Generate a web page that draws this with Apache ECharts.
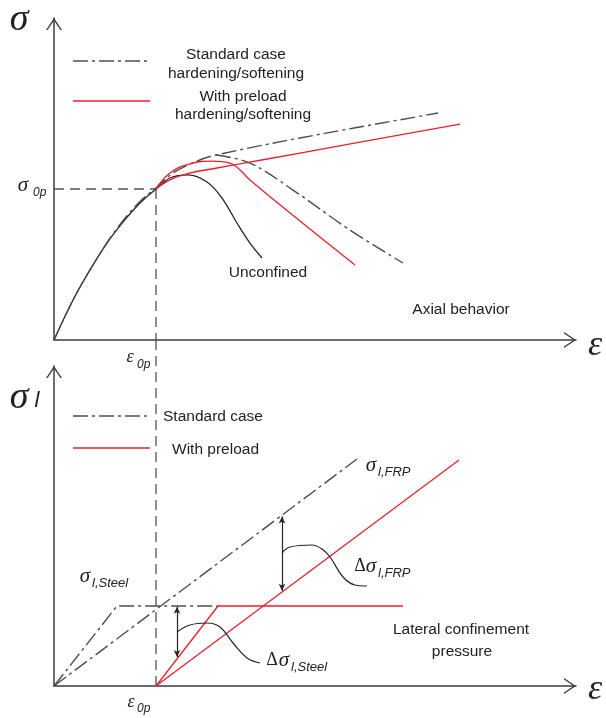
<!DOCTYPE html>
<html><head><meta charset="utf-8">
<script src="https://cdn.jsdelivr.net/npm/echarts@6.0.0/dist/echarts.min.js"></script>
<style>html,body{margin:0;padding:0;background:#fff}#c{width:606px;height:718px}</style>
</head><body><div id="c"></div>
<script>
// ---------- DATA (x: strain units with eps0p = 2; top y: sigma0p = 1; bottom y: steel plateau = 1) ----------
const eps0p = 2;
const sig0p = 1;
// Top panel: axial behaviour
const unconfined = [[0,0],[0.373,0.265],[0.706,0.464],[1.039,0.642],[1.353,0.781],[1.686,0.907],[2.0,1.0],[2.275,1.073],[2.627,1.093],[3.0,1.046],[3.294,0.940],[3.588,0.775],[3.843,0.642],[4.078,0.543]];
const stdHardening = [[0,0],[0.373,0.265],[0.706,0.464],[1.039,0.645],[1.353,0.790],[1.686,0.917],[2.0,1.007],[2.333,1.106],[2.804,1.185],[3.176,1.225],[4.824,1.338],[7.529,1.503]];
const stdSoftening = [[3.176,1.225],[3.843,1.172],[4.686,0.993],[5.804,0.728],[6.843,0.510]];
const preSoftening = [[2,1],[2.275,1.106],[2.667,1.166],[3.098,1.185],[3.451,1.172],[3.647,1.126],[3.843,1.060],[4.824,0.788],[5.902,0.497]];
const preHardening = [[2,1],[2.275,1.060],[2.667,1.106],[3.196,1.139],[3.647,1.166],[4.824,1.238],[7.961,1.430]];
// Bottom panel: lateral confinement pressure
const stdFRP = [[0,0],[5.941,2.8375]];
const stdSteel = [[0,0],[1.235,1],[3.216,1]];
const preSteel = [[2,0],[3.216,1],[6.843,1]];
const preFRP = [[2,0],[7.941,2.825]];
const frpArrow = [[4.471,2.12],[4.471,1.19]];
const steelArrow = [[2.412,0.99],[2.412,0.3625]];
const frpLeader = [[4.471,1.6625],[4.627,1.7375],[5.059,1.7625],[5.255,1.7125],[5.412,1.6125],[5.667,1.3625],[5.902,1.2625],[6.137,1.25]];
const steelLeader = [[2.412,0.675],[2.667,0.7625],[3.0,0.7875],[3.255,0.7375],[3.510,0.5375],[3.784,0.35],[4.039,0.2875]];
const guideTopY = 4.325;

// ---------- STYLE ----------
const RED = '#e8202c', DD = '#4d4d4d', BLK = '#262626', AX = '#3c3c3c', TXT = '#222';
const DASHDOT = [15,4,3,4];
const chevron = 'path://M0,12 L8,0 L16,12 L14.4,12 L8,2.4 L1.6,12 Z';

function axisX(gi){ return {gridIndex:gi,type:'value',min:0,max:10.235,
  axisLine:{show:true,lineStyle:{color:AX,width:1.5},symbol:['none',chevron],symbolSize:[16,12],symbolOffset:[0,-6]},
  axisTick:{show:false},axisLabel:{show:false},splitLine:{show:false}}; }
function axisY(gi,max){ return {gridIndex:gi,type:'value',min:0,max:max,
  axisLine:{show:true,onZero:false,lineStyle:{color:AX,width:1.5},symbol:['none',chevron],symbolSize:[16,12],symbolOffset:[0,-6]},
  axisTick:{show:false},axisLabel:{show:false},splitLine:{show:false}}; }
function ser(gi,data,color,width,type,smooth,extra){
  return Object.assign({type:'line',xAxisIndex:gi,yAxisIndex:gi,data:data,symbol:'none',smooth:smooth||false,
    silent:true,animation:false,lineStyle:{color:color,width:width,type:type}},extra||{});
}
function T(x,y,text,size,o){ o=o||{};
  return {type:'text',x:x,y:y,silent:true,z:100,style:{text:text,fontSize:size,
    fontFamily:o.family||'"Liberation Sans", Arial, sans-serif',fontStyle:o.italic?'italic':'normal',
    fill:TXT,align:o.align||'center',verticalAlign:'middle',textAlign:o.align||'center',textVerticalAlign:'middle'}};
}
const SERIF = '"Liberation Serif", "DejaVu Serif", serif';
function L(x1,y1,x2,y2,color,dash){ return {type:'line',silent:true,shape:{x1:x1,y1:y1,x2:x2,y2:y2},
  style:{stroke:color,lineWidth:1.4,lineDash:dash||null}}; }

const chart = echarts.init(document.getElementById('c'), null, {renderer:'canvas'});
chart.setOption({
  backgroundColor:'#fff',
  animation:false,
  grid:[{left:54,top:18,width:522,height:322},{left:54,top:366,width:522,height:320}],
  xAxis:[axisX(0),axisX(1)],
  yAxis:[axisY(0,322/151),axisY(1,4.0)],
  series:[
    // top guides
    ser(0,[[0,sig0p],[eps0p,sig0p]],'#555',1.3,[10,6]),
    ser(0,[[eps0p,sig0p],[eps0p,0]],'#555',1.3,[10,6]),
    ser(0,unconfined,BLK,1.3,'solid',0.35),
    ser(0,stdHardening,DD,1.4,DASHDOT,0.35),
    ser(0,stdSoftening,DD,1.4,DASHDOT,0.35),
    ser(0,preSoftening,RED,1.3,'solid',0.45),
    ser(0,preHardening,RED,1.3,'solid',0.35),
    // bottom
    ser(1,[[eps0p,guideTopY],[eps0p,0]],'#555',1.3,[10,6],false,{clip:false}),
    ser(1,stdFRP,DD,1.4,DASHDOT),
    ser(1,stdSteel,DD,1.4,DASHDOT),
    ser(1,preSteel,RED,1.3,'solid'),
    ser(1,preFRP,RED,1.3,'solid'),
    ser(1,frpLeader,BLK,1.2,'solid',0.4,{markLine:{silent:true,animation:false,symbol:['arrow','arrow'],symbolSize:[5,7],
      label:{show:false},lineStyle:{color:BLK,width:1.2,type:'solid'},
      data:[[{coord:frpArrow[0]},{coord:frpArrow[1]}]]}}),
    ser(1,steelLeader,BLK,1.2,'solid',0.4,{markLine:{silent:true,animation:false,symbol:['arrow','arrow'],symbolSize:[5,7],
      label:{show:false},lineStyle:{color:BLK,width:1.2,type:'solid'},
      data:[[{coord:steelArrow[0]},{coord:steelArrow[1]}]]}})
  ],
  graphic:[
    // axis symbols
    T(19,20,'σ',38,{family:SERIF,italic:true}),
    T(595,346,'ε',36,{family:SERIF,italic:true}),
    T(19,398,'σ',38,{family:SERIF,italic:true}),
    T(37,401,'l',22,{italic:true}),
    T(595,690,'ε',36,{family:SERIF,italic:true}),
    // sigma0p / eps0p
    T(23,185,'σ',21,{family:SERIF,italic:true}),
    T(33,193,'0p',12,{italic:true,align:'left'}),
    T(130,357,'ε',18,{family:SERIF,italic:true}),
    T(137,365,'0p',12,{italic:true,align:'left'}),
    T(131,702,'ε',18,{family:SERIF,italic:true}),
    T(137,709,'0p',12,{italic:true,align:'left'}),
    // top legend
    L(73,61,150,61,DD,DASHDOT),
    T(236,55,'Standard case',15.5),
    T(236,74,'hardening/softening',15.5),
    L(73,101,150,101,RED),
    T(243,97,'With preload',15.5),
    T(243,115,'hardening/softening',15.5),
    T(268,273,'Unconfined',15.5),
    T(461,310,'Axial behavior',15.5),
    // bottom legend
    L(73,416,150,416,DD,DASHDOT),
    T(163,417,'Standard case',15.5,{align:'left'}),
    L(73,448,150,448,RED),
    T(172,450,'With preload',15.5,{align:'left'}),
    // bottom labels
    T(371,465,'σ',21,{family:SERIF,italic:true}),
    T(378,472,'l,FRP',13,{italic:true,align:'left'}),
    T(360,566,'Δ',18,{family:SERIF}),
    T(371,566,'σ',21,{family:SERIF,italic:true}),
    T(378,573,'l,FRP',13,{italic:true,align:'left'}),
    T(85,576,'σ',21,{family:SERIF,italic:true}),
    T(92,583,'l,Steel',13,{italic:true,align:'left'}),
    T(272,660,'Δ',18,{family:SERIF}),
    T(284,660,'σ',21,{family:SERIF,italic:true}),
    T(291,667,'l,Steel',13,{italic:true,align:'left'}),
    T(461,630,'Lateral confinement',15.5),
    T(462,652,'pressure',15.5)
  ]
});
</script></body></html>
